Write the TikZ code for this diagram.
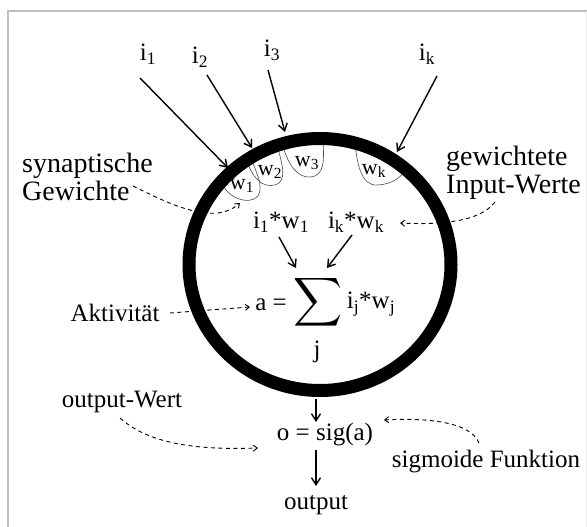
\documentclass[tikz,border=0pt]{standalone}
\usepackage{fontspec}
\setmainfont{Liberation Serif}
\usetikzlibrary{arrows.meta}
\begin{document}
\begin{tikzpicture}[x=1pt,y=-1pt,
  lbl/.style={inner sep=0pt,font=\fontsize{28}{28}\selectfont},
  lbls/.style={inner sep=0pt,font=\fontsize{25}{25}\selectfont},
  inp/.style={inner sep=0pt,font=\fontsize{25}{25}\selectfont},
  wt/.style={inner sep=0pt,font=\fontsize{22}{22}\selectfont},
  frm/.style={inner sep=0pt,font=\fontsize{25}{25}\selectfont},
  solidarr/.style={line width=1.4pt,-{Straight Barb[length=7pt,width=9pt,line width=1.4pt]}},
  dasharr/.style={line width=0.9pt,dash pattern=on 4pt off 3.5pt,-{Straight Barb[length=4pt,width=6pt,line width=0.9pt]}},
  loop/.style={line width=0.6pt,draw=black!70}]
\useasboundingbox (0,0) rectangle (587,527);
\fill[white] (0,0) rectangle (587,527);
% frame
\draw[black!25,line width=2pt] (8,527) -- (8,11) -- (587,11);
\draw[black!8,line width=1pt] (586,11) -- (586,527);

% weight loops
\draw[loop] (222,181) .. controls (225,198) and (250,206) .. (258,196) .. controls (264,186) and (256,172) .. (251,158);
\draw[loop] (246,158) .. controls (252,178) and (262,188) .. (275,185) .. controls (287,182) and (283,165) .. (277,146);
\draw[loop] (283,146) .. controls (288,165) and (298,178) .. (310,177) .. controls (325,176) and (324,160) .. (323,140);
\draw[loop] (355,143) .. controls (357,165) and (362,187) .. (378,185) .. controls (392,184) and (400,178) .. (406,170);
\node[wt] (w1) at (242,186) {w\textsubscript{1}};
\node[wt] (w2) at (270,172) {w\textsubscript{2}};
\node[wt] (w3) at (307,163) {w\textsubscript{3}};
\node[wt] (wk) at (374,171) {w\textsubscript{k}};

% neuron ring
\draw[line width=13pt] (320,264.5) ellipse [x radius=131, y radius=126];
\coordinate (n1) at (228,168);
\coordinate (n2) at (252,148);
\coordinate (n3) at (285,132);
\coordinate (nk) at (397,152);
\coordinate (nb) at (316,399);

% inputs
\node[inp] (i1) at (148,54) {i\textsubscript{1}};
\node[inp] (i2) at (200,57) {i\textsubscript{2}};
\node[inp] (i3) at (272,50) {i\textsubscript{3}};
\node[inp] (ik) at (427,54) {i\textsubscript{k}};
\draw[solidarr] (140,78) -- (n1);
\draw[solidarr] (207,75) -- (n2);
\draw[solidarr] (268,70) -- (n3);
\draw[solidarr] (437,76) -- (nk);

% inner formulas
\node[frm] (iw1) at (281,222) {i\textsubscript{1}*w\textsubscript{1}};
\node[frm] (iwk) at (356,222) {i\textsubscript{k}*w\textsubscript{k}};
\node[frm] (aeq) at (271,305) {a =};
\node[inner sep=0pt] (sum) at (318,302) {\scalebox{3.4}{$\displaystyle\sum$}};
\node[frm] (iwj) at (371,304) {i\textsubscript{j}*w\textsubscript{j}};
\node[frm] (j) at (317,352) {j};
\draw[solidarr] (279,237) -- (296,268);
\draw[solidarr] (352,235) -- (327,268);

% output
\node[lbls] (osig) at (325,435) {o = sig(a)};
\node[lbls] (out) at (316,505) {output};
\draw[solidarr] (nb) -- (316,422);
\draw[solidarr] (316,450) -- (316,486);

% annotations
\node[lbl,align=left,anchor=west] (syn) at (22,177) {synaptische\\Gewichte};
\node[lbl,align=left,anchor=west] (gew) at (446,173) {gewichtete\\Input-Werte};
\node[lbls] (akt) at (115,313) {Aktivität};
\node[lbls] (ow) at (122,402) {output-Wert};
\node[lbls] (sf) at (486,462) {sigmoide Funktion};

\draw[dasharr] (133,186) .. controls (175,207) and (215,225) .. (240,203);
\draw[dasharr] (495,202) .. controls (480,222) and (440,225) .. (400,223);
\draw[dasharr] (170,313) -- (250,307);
\draw[dasharr] (120,418) .. controls (150,445) and (200,450) .. (258,448);
\draw[dasharr] (479,443) .. controls (470,420) and (420,418) .. (384,420);
\end{tikzpicture}
\end{document}
